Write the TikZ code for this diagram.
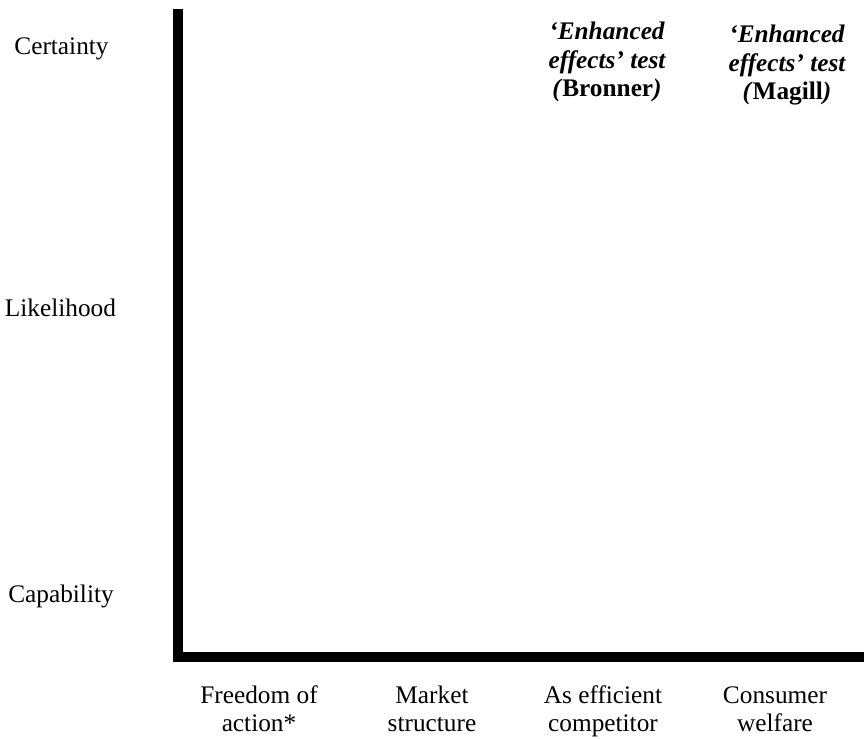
\documentclass[tikz,border=0pt]{standalone}
\usepackage{fontspec}
\setmainfont{Liberation Serif}
\usepackage{tikz}
\usetikzlibrary{calc}

\tikzset{
  axis/.style={line width=5.7pt, line join=miter},
  lbl/.style={anchor=base, align=center, font=\fontsize{14.4}{16.3}\selectfont},
  testlbl/.style={lbl, font=\fontsize{14.4}{16.3}\selectfont\bfseries\itshape}
}

\begin{document}
\begin{tikzpicture}
\useasboundingbox (0,0) rectangle (17.28,14.78);
% axes
\coordinate (top) at (3.56,14.6);
\coordinate (origin) at (3.56,1.64);
\coordinate (right) at (17.28,1.64);
\draw[axis] (top) -- (origin) -- (right);
% levels
\node[lbl] (certainty) at (1.23,13.68) {Certainty};
\node[lbl] (likelihood) at (1.21,8.44) {Likelihood};
\node[lbl] (capability) at (1.22,2.72) {Capability};
% standards (base = last line)
\node[lbl] (freedom) at (5.18,0.14) {Freedom of\\action*};
\node[lbl] (market) at (8.64,0.14) {Market\\structure};
\node[lbl] (aec) at (12.06,0.14) {As efficient\\competitor};
\node[lbl] (welfare) at (15.5,0.14) {Consumer\\welfare};
% tests
\node[testlbl] (bronner) at (12.14,12.84) {`Enhanced\\effects' test\\(\textup{Bronner})};
\node[testlbl] (magill) at (15.74,12.78) {`Enhanced\\effects' test\\(\textup{Magill})};
\end{tikzpicture}
\end{document}
